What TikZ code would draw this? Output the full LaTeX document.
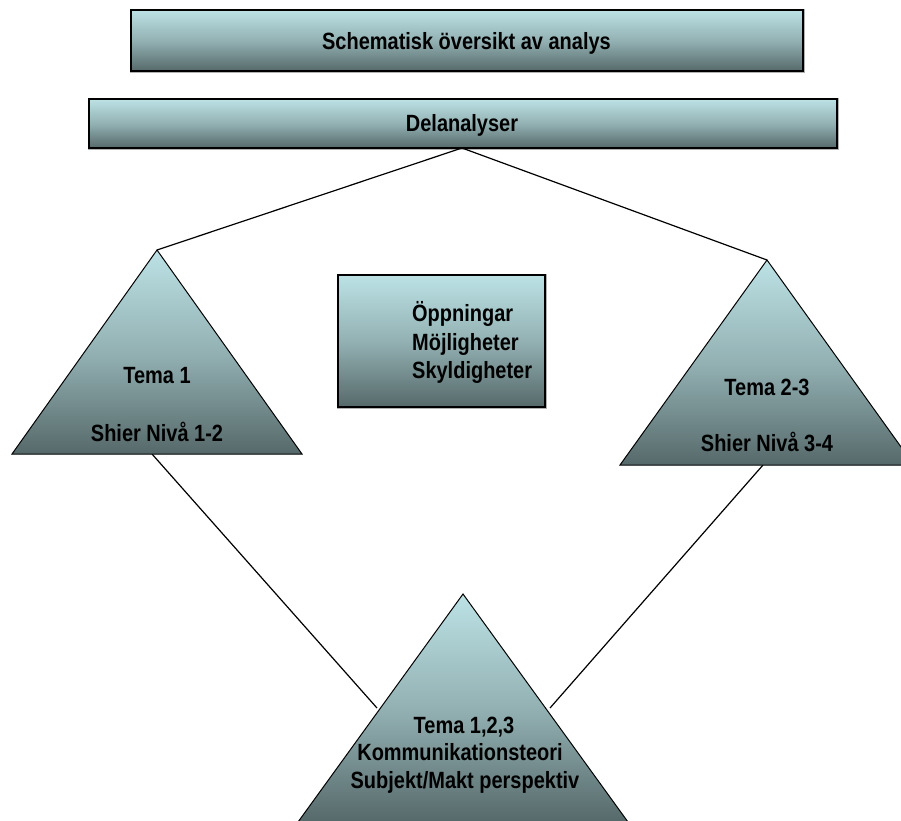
\documentclass[tikz,border=0pt]{standalone}
\usepackage{fontspec}
\setmainfont{Liberation Sans}[FakeStretch=0.85]
\definecolor{gtop}{HTML}{BCE2E5}
\definecolor{gmid}{HTML}{93B1B3}
\definecolor{gbot}{HTML}{56696A}
\begin{document}
\begin{tikzpicture}[x=1pt,y=-1pt,
  grad/.style={top color=gtop, bottom color=gbot, middle color=gmid},
  boxnode/.style={rectangle, grad, draw=black, line width=1.5pt, inner sep=0pt,
     preaction={draw=gray!60, line width=3pt}},
  tri/.style={grad, draw=black, line width=1pt, line join=miter},
  lbl/.style={font=\fontsize{23.5}{28}\selectfont\bfseries, inner sep=0pt, anchor=base},
  lbll/.style={lbl, anchor=base west},
  conn/.style={draw=black, line width=1.2pt}]
\useasboundingbox (0,0) rectangle (901,820);
% top boxes
\node[boxnode, minimum width=672pt, minimum height=61pt] (b1) at (467,40.5) {};
\node[boxnode, minimum width=748pt, minimum height=49pt] (b2) at (463,123.5) {};
\node[lbl] (t1) at (466.5,49) {Schematisk översikt av analys};
\node[lbl] (t2) at (462,131) {Delanalyser};
% triangles corners
\coordinate (la) at (157,250);
\coordinate (ll) at (12,454);
\coordinate (lr) at (302,454);
\coordinate (ra) at (767,260);
\coordinate (rl) at (620,465);
\coordinate (rr) at (914,465);
\coordinate (ba) at (463,594);
\coordinate (bl) at (298,822);
\coordinate (br) at (628,822);
% connector ends
\coordinate (dtop) at (462,148);
\coordinate (lbase) at (152,454);
\coordinate (rbase) at (763,465);
\coordinate (bsl) at (377,708);
\coordinate (bsr) at (550,708);
% connectors
\draw[conn] (la) -- (dtop) -- (ra);
\draw[conn] (lbase) -- (bsl);
\draw[conn] (rbase) -- (bsr);
% triangles
\path[tri] (la) -- (lr) -- (ll) -- cycle;
\path[tri] (ra) -- (rr) -- (rl) -- cycle;
\path[tri] (ba) -- (br) -- (bl) -- cycle;
% middle box
\node[boxnode, minimum width=207pt, minimum height=132pt] (mb) at (441.5,341) {};
\node[lbll] (m1) at (412,321) {Öppningar};
\node[lbll] (m2) at (412,350) {Möjligheter};
\node[lbll] (m3) at (412,378) {Skyldigheter};
% triangle labels
\node[lbl] (l1) at (157,383) {Tema 1};
\node[lbl] (l2) at (157,441) {Shier Nivå 1-2};
\node[lbl] (r1) at (767,395) {Tema 2-3};
\node[lbl] (r2) at (767,451) {Shier Nivå 3-4};
\node[lbl] (c1) at (464,733) {Tema 1,2,3};
\node[lbl] (c2) at (460,760) {Kommunikationsteori};
\node[lbl] (c3) at (465,788) {Subjekt/Makt perspektiv};
\end{tikzpicture}
\end{document}
